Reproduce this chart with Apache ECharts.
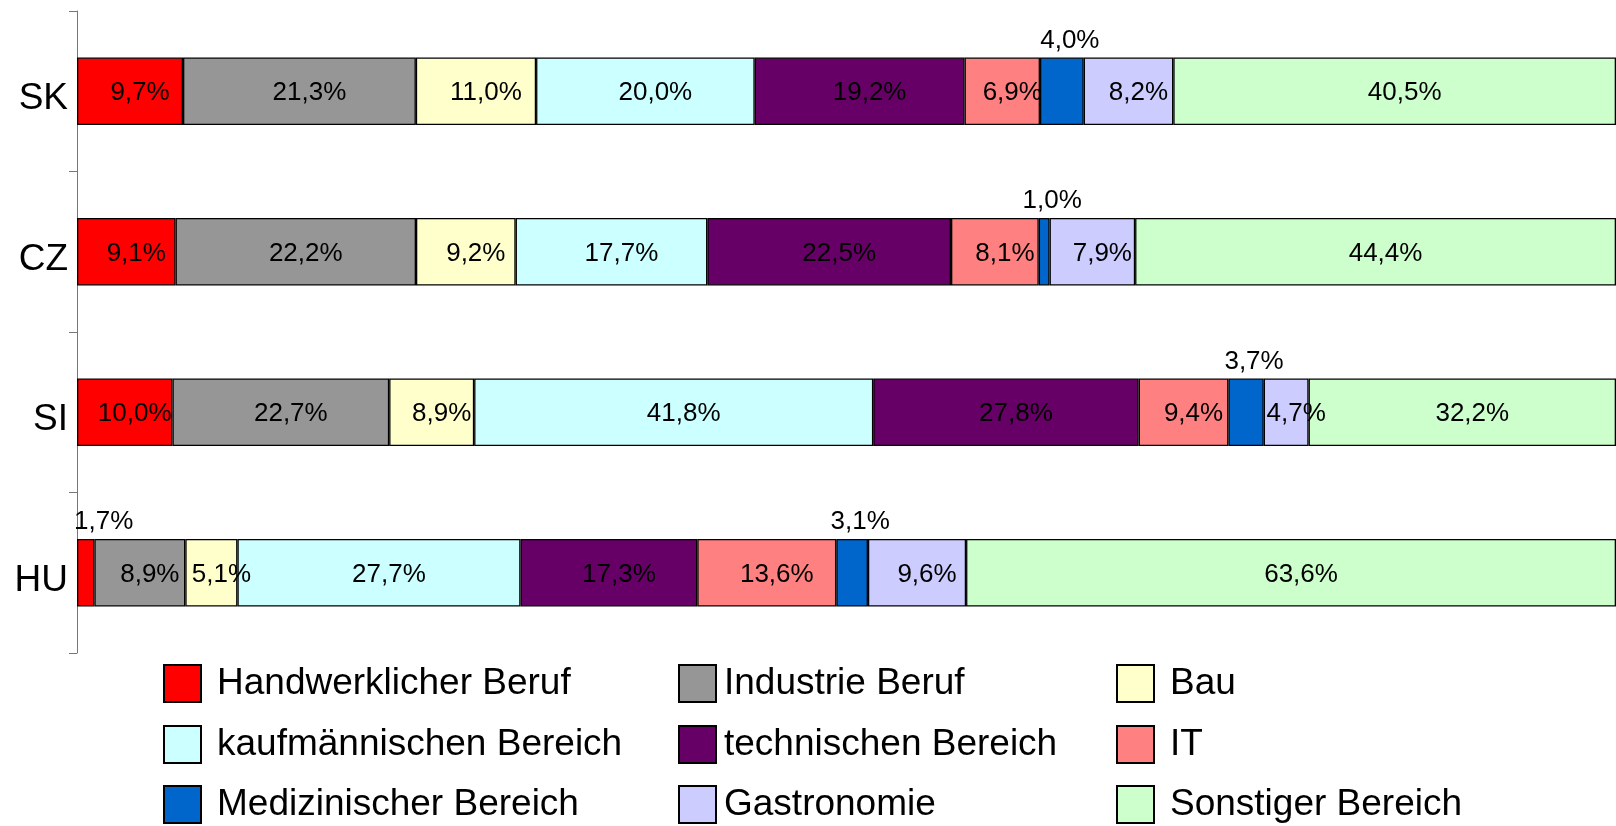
<!DOCTYPE html>
<html>
<head>
<meta charset="utf-8">
<script src="https://cdn.jsdelivr.net/npm/echarts@6/dist/echarts.min.js"></script>
<style>
  html, body { margin: 0; padding: 0; background: #fff; }
  #chart { width: 1616px; height: 826px; }
</style>
</head>
<body>
<div id="chart"></div>
<script>
// Länder (von oben nach unten)
var categories = ['SK', 'CZ', 'SI', 'HU'];

var seriesNames = ['Handwerklicher Beruf', 'Industrie Beruf', 'Bau',
    'kaufmännischen Bereich', 'technischen Bereich', 'IT',
    'Medizinischer Bereich', 'Gastronomie', 'Sonstiger Bereich'];

// Werte in % je Land (SK, CZ, SI, HU)
var handwerk     = [9.7, 9.1, 10.0, 1.7];
var industrie    = [21.3, 22.2, 22.7, 8.9];
var bau          = [11.0, 9.2, 8.9, 5.1];
var kaufmann     = [20.0, 17.7, 41.8, 27.7];
var technik      = [19.2, 22.5, 27.8, 17.3];
var it           = [6.9, 8.1, 9.4, 13.6];
var medizin      = [4.0, 1.0, 3.7, 3.1];
var gastronomie  = [8.2, 7.9, 4.7, 9.6];
var sonstiges    = [40.5, 44.4, 32.2, 63.6];

var values = [handwerk, industrie, bau, kaufmann, technik, it, medizin, gastronomie, sonstiges];

var colors = ['#FF0000', '#969696', '#FFFFCC', '#CCFFFF', '#660066',
    '#FF8080', '#0066CC', '#CCCCFF', '#CCFFCC'];

// Summe je Land -> Balken auf 100% gestapelt (wie im Excel-Diagramm)
var totals = categories.map(function (c, j) {
    var s = 0;
    values.forEach(function (arr) { s += arr[j]; });
    return s;
});

function fmt(v) {
    return v.toFixed(1).replace('.', ',') + '%';
}

var FONT = 'Liberation Sans, Arial, sans-serif';

var series = seriesNames.map(function (name, i) {
    return {
        name: name,
        type: 'bar',
        stack: 'gesamt',
        barCategoryGap: '58%',
        itemStyle: {
            color: colors[i],
            borderColor: '#000',
            borderWidth: 1.3
        },
        label: {
            show: true,
            position: 'inside',
            offset: [10, 2],
            color: '#000',
            fontSize: 26,
            fontFamily: FONT,
            formatter: function (p) { return fmt(p.data.raw); }
        },
        data: values[i].map(function (v, j) {
            var item = { value: v / totals[j] * 100, raw: v };
            // kleine Segmente: Beschriftung über dem Balken
            if (v <= 4) {
                item.label = {
                    position: 'top',
                    distance: 4,
                    offset: [i === 0 ? 18 : 8, 0]
                };
            }
            return item;
        })
    };
});

// Legende: 3 x 3 Raster, ein Legenden-Eintrag pro Zelle
var colLeft = [163, 678, 1116];
var colPad = [11, 3, 11];
var rowTop = [664, 725, 785];

var legends = seriesNames.map(function (name, i) {
    var r = Math.floor(i / 3), c = i % 3;
    return {
        left: colLeft[c],
        top: rowTop[r],
        padding: 0,
        itemWidth: 37,
        itemHeight: 37,
        icon: 'rect',
        selectedMode: false,
        data: [name],
        textStyle: {
            fontSize: 37,
            color: '#000',
            fontFamily: FONT,
            padding: [0, 0, 0, colPad[c]]
        }
    };
});

var myChart = echarts.init(document.getElementById('chart'));

myChart.setOption({
    animation: false,
    backgroundColor: '#fff',
    grid: {
        left: 77,
        right: -15,
        top: 11,
        bottom: 173
    },
    legend: legends,
    xAxis: {
        type: 'value',
        min: 0,
        max: 100,
        show: false
    },
    yAxis: {
        type: 'category',
        inverse: true,
        data: categories,
        axisLine: { lineStyle: { color: '#777', width: 1 } },
        axisTick: { show: true, length: 8, lineStyle: { color: '#777' } },
        axisLabel: {
            color: '#000',
            margin: 9,
            formatter: function (v) { return '{v|' + v + '}'; },
            rich: {
                v: {
                    fontSize: 37,
                    color: '#000',
                    fontFamily: FONT,
                    padding: [16, 0, 0, 0]
                }
            }
        }
    },
    series: series
});
</script>
</body>
</html>
